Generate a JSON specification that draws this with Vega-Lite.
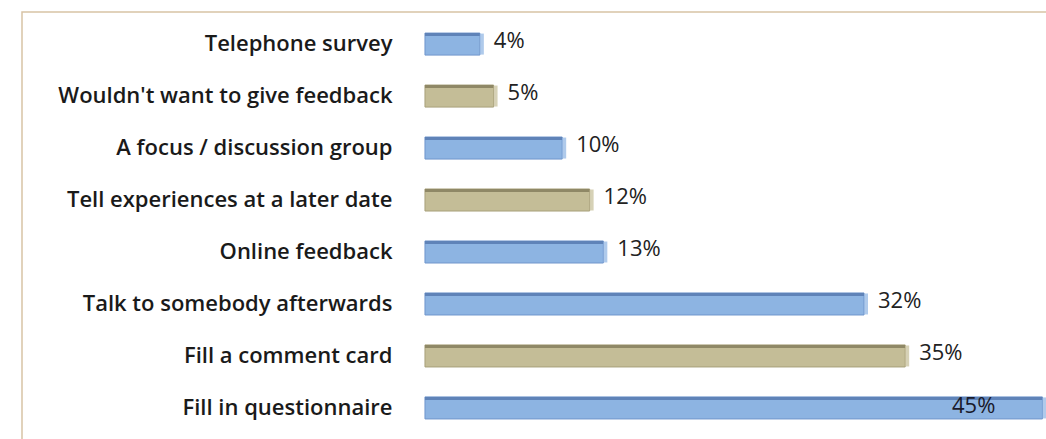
{
  "$schema": "https://vega.github.io/schema/vega-lite/v6.json",
  "autosize": {"type": "none"},
  "padding": {"left": 22, "top": 12, "right": 0, "bottom": 0},
  "width": 1030,
  "height": 428,
  "background": "white",
  "config": {
    "view": {"stroke": "#d8c3a5", "strokeWidth": 1.5},
    "font": "Open Sans"
  },
  "data": {
    "values": [
      {"method": "Telephone survey", "value": 0.04, "series": "blue"},
      {"method": "Wouldn't want to give feedback", "value": 0.05, "series": "tan"},
      {"method": "A focus / discussion group", "value": 0.10, "series": "blue"},
      {"method": "Tell experiences at a later date", "value": 0.12, "series": "tan"},
      {"method": "Online feedback", "value": 0.13, "series": "blue"},
      {"method": "Talk to somebody afterwards", "value": 0.32, "series": "blue"},
      {"method": "Fill a comment card", "value": 0.35, "series": "tan"},
      {"method": "Fill in questionnaire", "value": 0.45, "series": "blue"}
    ]
  },
  "encoding": {
    "y": {
      "field": "method",
      "type": "nominal",
      "sort": null,
      "scale": {"paddingInner": 0.576, "paddingOuter": 0.405},
      "axis": {
        "title": null,
        "domain": false,
        "ticks": false,
        "tickSize": 0,
        "labelPadding": -370,
        "labelAlign": "right",
        "labelFont": "Open Sans",
        "labelFontWeight": 600,
        "labelFontSize": 22,
        "labelColor": "#1a1a1a",
        "labelLimit": 0
      }
    },
    "x": {
      "field": "value",
      "type": "quantitative",
      "scale": {"domain": [-0.2937, 0.457], "nice": false, "zero": false},
      "axis": null
    }
  },
  "layer": [
    {
      "mark": {"type": "bar", "strokeWidth": 1},
      "encoding": {
        "x2": {"datum": 0},
        "color": {
          "field": "series",
          "type": "nominal",
          "scale": {"domain": ["blue", "tan"], "range": ["#8db4e2", "#c4bd97"]},
          "legend": null
        },
        "stroke": {
          "field": "series",
          "type": "nominal",
          "scale": {"domain": ["blue", "tan"], "range": ["#7096cc", "#a8a07a"]},
          "legend": null
        }
      }
    },
    {
      "mark": {"type": "bar", "height": 3, "yOffset": -9.5},
      "encoding": {
        "x2": {"datum": 0},
        "color": {
          "field": "series",
          "type": "nominal",
          "scale": {"domain": ["blue", "tan"], "range": ["#8db4e2", "#c4bd97"]},
          "legend": null
        },
        "fill": {
          "field": "series",
          "type": "nominal",
          "scale": {"domain": ["blue", "tan"], "range": ["#5f83b8", "#8f8866"]},
          "legend": null
        }
      }
    },
    {
      "mark": {"type": "tick", "orient": "vertical", "thickness": 4, "size": 21, "xOffset": 2, "yOffset": 0},
      "encoding": {
        "color": {
          "field": "series",
          "type": "nominal",
          "scale": {"domain": ["blue", "tan"], "range": ["#4f6fa0", "#857d55"]},
          "legend": null
        }
      }
    },
    {
      "transform": [{"filter": "datum.value < 0.4"}],
      "mark": {"type": "text", "align": "left", "baseline": "middle", "dx": 14, "dy": -3, "fontSize": 22, "color": "#222222"},
      "encoding": {
        "text": {"field": "value", "type": "quantitative", "format": ".0%"}
      }
    },
    {
      "transform": [{"filter": "datum.value >= 0.4"}],
      "mark": {"type": "text", "align": "right", "baseline": "middle", "dx": -47, "dy": -2, "fontSize": 22, "color": "#1a1a2a"},
      "encoding": {
        "text": {"field": "value", "type": "quantitative", "format": ".0%"}
      }
    }
  ]
}
